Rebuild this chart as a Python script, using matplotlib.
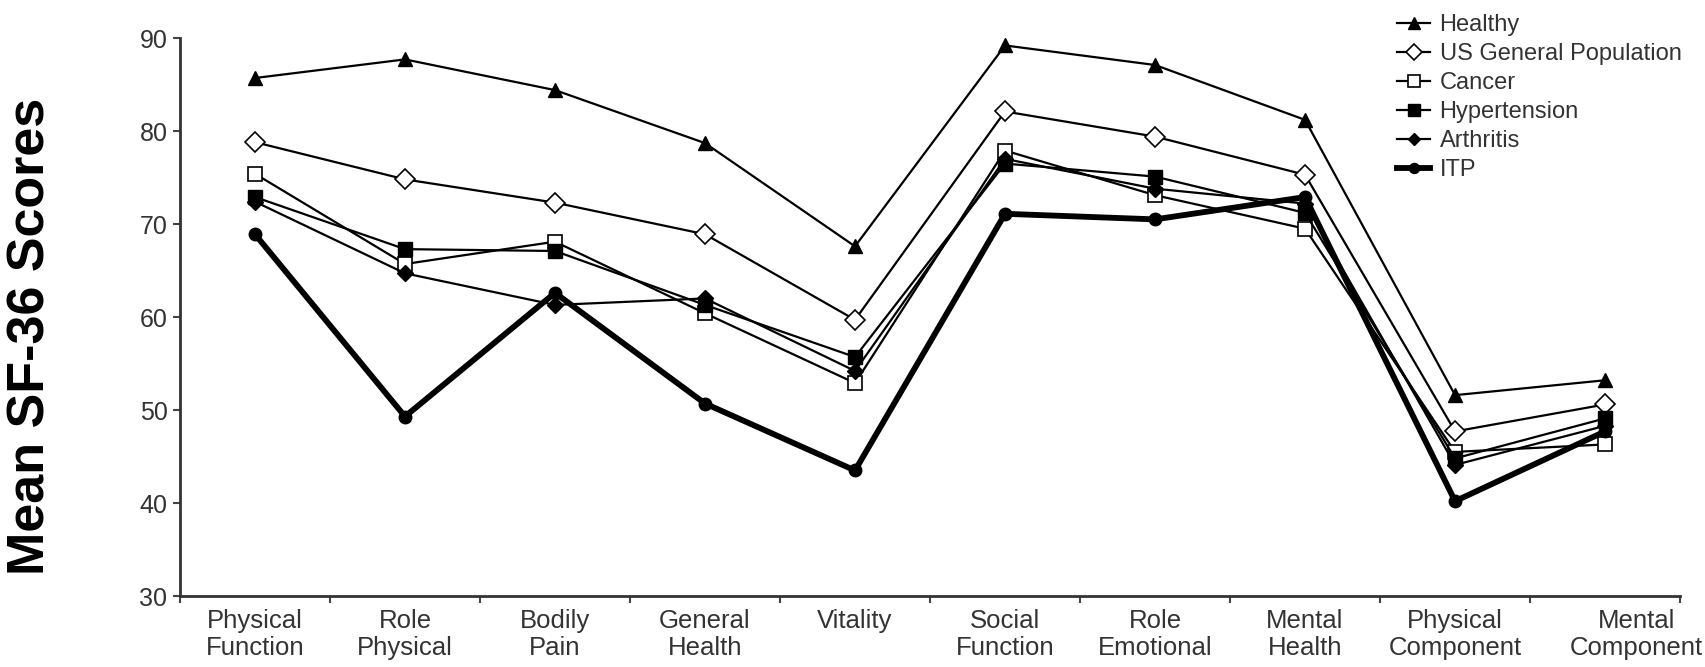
import numpy as np
import matplotlib.pyplot as plt
import matplotlib.transforms as mtransforms
from matplotlib.ticker import FixedLocator, NullFormatter

plt.rcParams['font.family'] = ['Liberation Sans', 'DejaVu Sans']

# SF-36 domains and summary scores
domains = ['Physical\nFunction', 'Role\nPhysical', 'Bodily\nPain', 'General\nHealth', 'Vitality',
           'Social\nFunction', 'Role\nEmotional', 'Mental\nHealth', 'Physical\nComponent',
           'Mental\nComponent']

healthy = [85.7, 87.7, 84.4, 78.7, 67.6, 89.2, 87.1, 81.2, 51.6, 53.2]
us_general = [78.8, 74.8, 72.3, 68.9, 59.7, 82.1, 79.4, 75.3, 47.7, 50.6]
cancer = [75.4, 65.7, 68.1, 60.4, 52.9, 77.9, 73.1, 69.5, 45.5, 46.3]
hypertension = [72.9, 67.3, 67.1, 61.3, 55.7, 76.5, 75.1, 71.2, 44.8, 49.1]
arthritis = [72.4, 64.7, 61.3, 62.0, 54.2, 77.0, 73.8, 72.2, 44.1, 48.3]
itp = [68.9, 49.3, 62.6, 50.7, 43.5, 71.1, 70.5, 72.9, 40.2, 47.7]

x = np.arange(len(domains))

fig = plt.figure(figsize=(17.06, 6.67), dpi=100)
ax = fig.add_axes([0.1055, 0.1064, 0.8793, 0.8366])

ax.plot(x, healthy, color='black', lw=1.6, marker='^', ms=10, mfc='black', mec='black',
        label='Healthy')
ax.plot(x, us_general, color='black', lw=1.6, marker='D', ms=10, mfc='white', mec='black',
        mew=1.2, label='US General Population')
ax.plot(x, cancer, color='black', lw=1.6, marker='s', ms=10, mfc='white', mec='black',
        mew=1.2, label='Cancer')
ax.plot(x, hypertension, color='black', lw=1.6, marker='s', ms=10, mfc='black', mec='black',
        label='Hypertension')
ax.plot(x, arthritis, color='black', lw=1.6, marker='D', ms=8, mfc='black', mec='black',
        label='Arthritis')
ax.plot(x, itp, color='black', lw=4.2, marker='o', ms=9, mfc='black', mec='black',
        label='ITP')

ax.set_xlim(-0.5, len(domains) - 0.5)
ax.set_ylim(30, 90)
ax.set_yticks(np.arange(30, 91, 10))

ax.set_xticks(x)
ax.set_xticklabels(domains, fontsize=18.5, color='#333333', linespacing=1.2)
ax.xaxis.set_minor_locator(FixedLocator(np.arange(-0.5, len(domains), 1)))
ax.xaxis.set_minor_formatter(NullFormatter())
ax.tick_params(axis='x', which='major', length=0, pad=9)
ax.tick_params(axis='x', which='minor', length=5, width=1.5, direction='out', color='#444444')
ax.tick_params(axis='y', length=5, width=1.5, direction='out', color='#444444',
               labelsize=18, labelcolor='#333333', pad=4)

# last label sits a little right of its category
last = ax.get_xticklabels()[-1]
last.set_transform(last.get_transform() +
                   mtransforms.ScaledTranslation(0.31, 0, fig.dpi_scale_trans))

for side in ['top', 'right']:
    ax.spines[side].set_visible(False)
for side in ['left', 'bottom']:
    ax.spines[side].set_linewidth(2)
    ax.spines[side].set_color('#333333')

fig.text(0.018, 0.496, 'Mean SF-36 Scores', rotation=90, fontsize=37.5, fontweight='bold',
         ha='center', va='center')

leg = ax.legend(loc='upper left', bbox_to_anchor=(0.812, 0.997), bbox_transform=fig.transFigure,
                frameon=False, fontsize=17, borderpad=0, handlelength=1.4, handletextpad=0.4,
                labelspacing=0.3, markerscale=0.8)
for t in leg.get_texts():
    t.set_color('#333333')

fig.savefig('out.png', dpi=100)
